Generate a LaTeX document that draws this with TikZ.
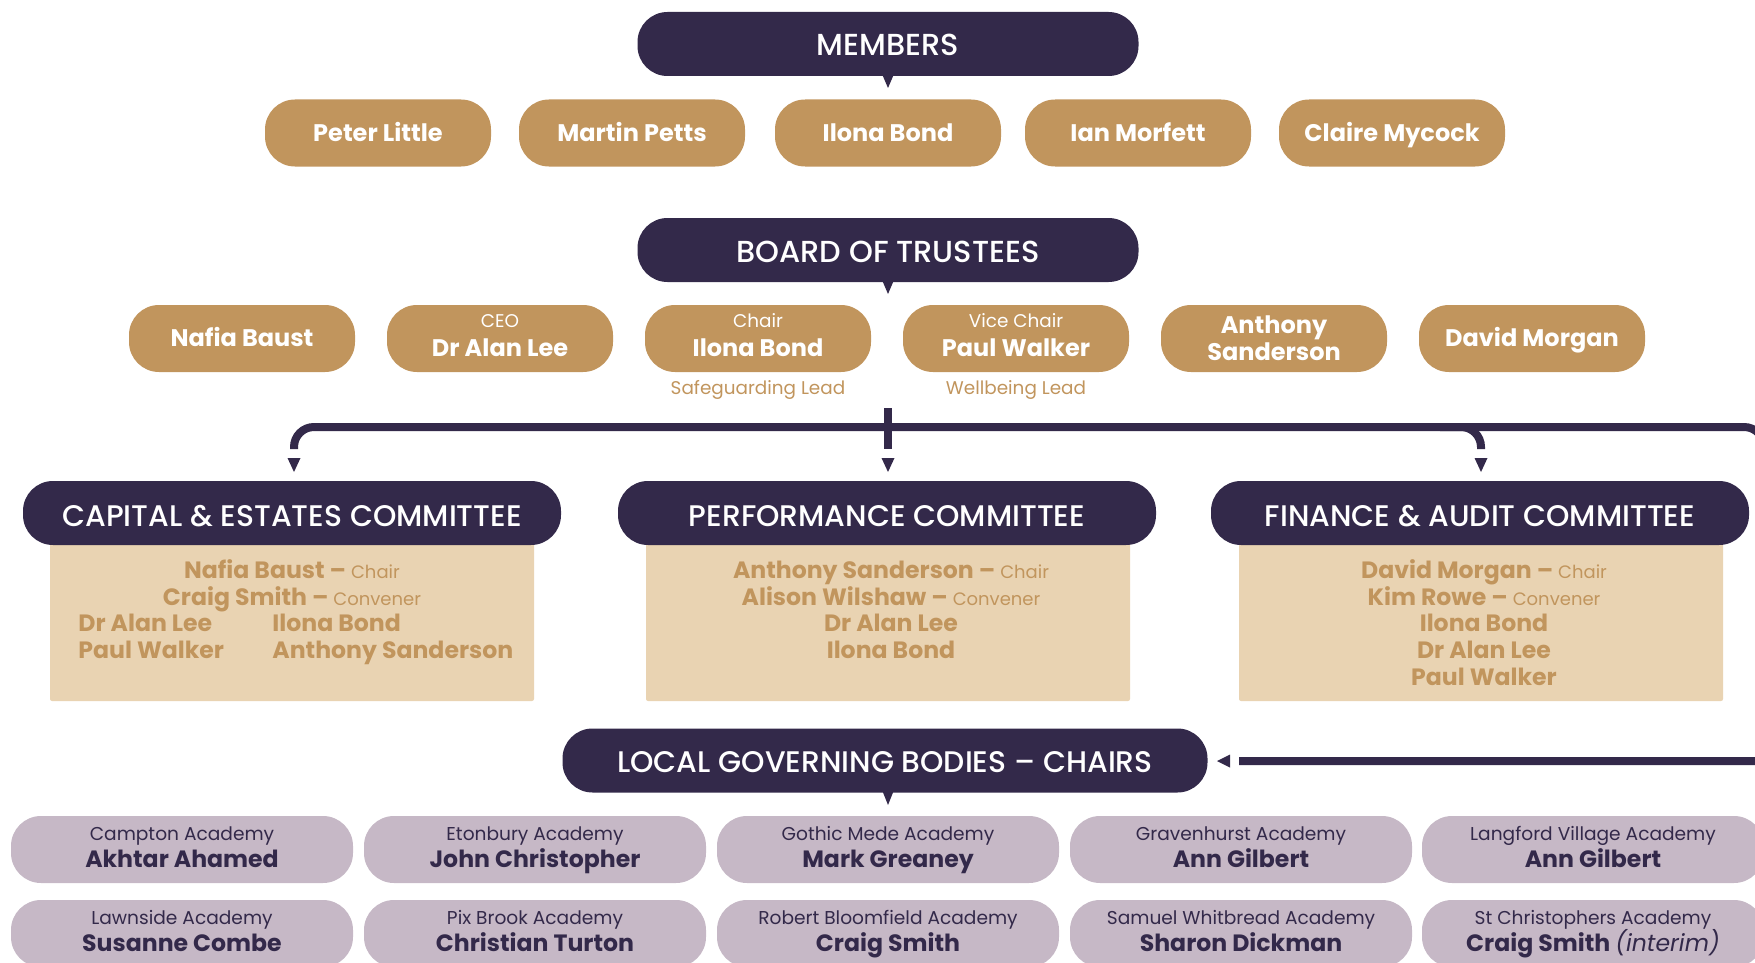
\documentclass[tikz,border=0pt]{standalone}
\usepackage{fontspec}
\setmainfont{Poppins}
\newfontfamily\medfont{Poppins Medium}
\definecolor{dark}{RGB}{51,41,74}
\definecolor{gold}{RGB}{193,149,93}
\definecolor{beige}{RGB}{233,211,178}
\definecolor{lav}{RGB}{198,184,198}
\newcommand\fHead{\medfont\fontsize{15.2}{17}\selectfont}
\newcommand\fCom{\medfont\fontsize{14.9}{17}\selectfont}
\newcommand\fName{\fontsize{12}{14}\selectfont\bfseries}
\newcommand\fSmall{\fontsize{9.2}{11}\selectfont}
\newcommand\fBox{\fontsize{11.8}{13}\selectfont\bfseries}
\newcommand\fBoxS{\fontsize{9}{10}\selectfont\mdseries}
\newcommand\fAcS{\fontsize{9.3}{11}\selectfont}
\newcommand\fAcB{\fontsize{11.8}{13}\selectfont\bfseries}
\begin{document}
\begin{tikzpicture}[x=0.5pt,y=-0.5pt,
  hdr/.style={fill=dark, rounded corners=15pt, inner sep=0, minimum height=32pt},
  goldpill/.style={fill=gold, rounded corners=15pt, inner sep=0, minimum width=113pt, minimum height=33.5pt},
  acad/.style={fill=lav, rounded corners=15pt, inner sep=0, minimum width=171pt, minimum height=33.5pt},
  cbox/.style={fill=beige, rounded corners=1pt, inner sep=0, minimum width=242pt, minimum height=80.5pt},
  tw/.style={anchor=base, inner sep=0, text=white},
  tg/.style={anchor=base, inner sep=0, text=gold},
  tgl/.style={anchor=base west, inner sep=0, text=gold},
  td/.style={anchor=base, inner sep=0, text=dark},
  conn/.style={draw=dark, line width=4pt},
  tip/.style={fill=dark}
]
\useasboundingbox (0,0) rectangle (1755,963);

% ---------- MEMBERS ----------
\node[hdr, minimum width=250.5pt] (members) at (888,44) {};
\node[tw] (memberst) at (888,56) {\fHead MEMBERS};
\fill[tip] (882,74) -- (894,74) -- (888,88) -- cycle;
\foreach \nm/\x/\t in {m1/378/Peter Little, m2/632/Martin Petts, m3/888/Ilona Bond, m4/1138/Ian Morfett, m5/1392/Claire Mycock}{
  \node[goldpill] (\nm) at (\x,133) {};
  \node[tw] (\nm t) at (\x,141) {\fName \t};
}

% ---------- BOARD ----------
\node[hdr, minimum width=250.5pt] (board) at (888,250) {};
\node[tw] (boardt) at (888,262) {\fHead BOARD OF TRUSTEES};
\fill[tip] (882,280) -- (894,280) -- (888,294) -- cycle;

\foreach \nm/\x in {t1/242, t2/500, t3/758, t4/1016, t5/1274, t6/1532}{
  \node[goldpill] (\nm) at (\x,338.5) {};
}
\node[tw] (t1a) at (242,346) {\fName Nafia Baust};
\node[tw] (t2a) at (500,327) {\fSmall CEO};
\node[tw] (t2b) at (500,356) {\fName Dr Alan Lee};
\node[tw] (t3a) at (758,327) {\fSmall Chair};
\node[tw] (t3b) at (758,356) {\fName Ilona Bond};
\node[tw] (t4a) at (1016,327) {\fSmall Vice Chair};
\node[tw] (t4b) at (1016,356) {\fName Paul Walker};
\node[tw] (t5a) at (1274,333) {\fName Anthony};
\node[tw] (t5b) at (1274,360) {\fName Sanderson};
\node[tw] (t6a) at (1532,346) {\fName David Morgan};
\node[tg] (t3c) at (758,394) {\fSmall Safeguarding Lead};
\node[tg] (t4c) at (1016,394) {\fSmall Wellbeing Lead};

% ---------- connectors ----------
\coordinate (hubtop) at (888,408);
\coordinate (hubbot) at (888,449);
\coordinate (c1end) at (294,449);
\coordinate (c3end) at (1481,449);
\coordinate (lgbend) at (1239,761);
\coordinate (edgeT) at (1764,427);
\coordinate (edgeM) at (1764,600);
\coordinate (edgeB) at (1764,761);
\draw[conn, rounded corners=10pt] (c1end) -- (294,427) -- (edgeT) -- (edgeM);
\draw[conn, rounded corners=3pt] (edgeM) -- (edgeB) -- (lgbend);
\draw[conn, rounded corners=10pt] (1440,427) -- (1481,427) -- (c3end);
\draw[conn] (hubtop) -- (hubbot);
\coordinate (a1) at (294,458);
\coordinate (a2) at (888,458);
\coordinate (a3) at (1481,458);
\foreach \a in {a1,a2,a3}{
  \fill[tip] (\a) ++(-6.5,0) -- ++(13,0) -- ++(-6.5,14) -- cycle;
}
\coordinate (a4) at (1217,761);
\fill[tip] (a4) -- ++(13,-6.5) -- ++(0,13) -- cycle;

% ---------- committees ----------
\node[cbox] (b1) at (292,620.5) {};
\node[cbox] (b2) at (888,620.5) {};
\node[cbox] (b3) at (1481,620.5) {};
\node[hdr, minimum width=269pt] (c1) at (292,513) {};
\node[hdr, minimum width=269pt] (c2) at (887,513) {};
\node[hdr, minimum width=269pt] (c3) at (1480,513) {};
\node[tw] (c1t) at (292,526) {\fCom CAPITAL \& ESTATES COMMITTEE};
\node[tw] (c2t) at (887,526) {\fCom PERFORMANCE COMMITTEE};
\node[tw] (c3t) at (1480,526) {\fCom FINANCE \& AUDIT COMMITTEE};

% capital
\node[tg] (b1a) at (292,578) {\fBox Nafia Baust – {\fBoxS Chair}};
\node[tg] (b1b) at (292,605) {\fBox Craig Smith – {\fBoxS Convener}};
\node[tgl] (b1c) at (78,631) {\fBox Dr Alan Lee};
\node[tgl] (b1d) at (272,631) {\fBox Ilona Bond};
\node[tgl] (b1e) at (78,658) {\fBox Paul Walker};
\node[tgl] (b1f) at (272,658) {\fBox Anthony Sanderson};
% performance
\node[tg] (b2a) at (891,578) {\fBox Anthony Sanderson – {\fBoxS Chair}};
\node[tg] (b2b) at (891,605) {\fBox Alison Wilshaw – {\fBoxS Convener}};
\node[tg] (b2c) at (891,631) {\fBox Dr Alan Lee};
\node[tg] (b2d) at (891,658) {\fBox Ilona Bond};
% finance
\node[tg] (b3a) at (1484,578) {\fBox David Morgan – {\fBoxS Chair}};
\node[tg] (b3b) at (1484,605) {\fBox Kim Rowe – {\fBoxS Convener}};
\node[tg] (b3c) at (1484,631) {\fBox Ilona Bond};
\node[tg] (b3d) at (1484,658) {\fBox Dr Alan Lee};
\node[tg] (b3e) at (1484,685) {\fBox Paul Walker};

% ---------- LGB ----------
\node[hdr, minimum width=322.5pt] (lgb) at (885,760.5) {};
\node[tw] (lgbt) at (885,772) {\fCom LOCAL GOVERNING BODIES – CHAIRS};
\fill[tip] (882,790) -- (894,790) -- (888,805) -- cycle;

\foreach \nm/\x/\y/\s/\b in {
  r1/182/849.5/Campton Academy/Akhtar Ahamed,
  r2/535/849.5/Etonbury Academy/John Christopher,
  r3/888/849.5/Gothic Mede Academy/Mark Greaney,
  r4/1241/849.5/Gravenhurst Academy/Ann Gilbert,
  r5/1593/849.5/Langford Village Academy/Ann Gilbert,
  s1/182/933.5/Lawnside Academy/Susanne Combe,
  s2/535/933.5/Pix Brook Academy/Christian Turton,
  s3/888/933.5/Robert Bloomfield Academy/Craig Smith,
  s4/1241/933.5/Samuel Whitbread Academy/Sharon Dickman,
  s5/1593/933.5/St Christophers Academy/{Craig Smith {\mdseries\itshape (interim)}}}{
  \node[acad] (\nm) at (\x,\y) {};
  \node[td] (\nm a) at (\x,\y-9) {\fAcS \s};
  \node[td] (\nm b) at (\x,\y+17.5) {\fAcB \b};
}
\end{tikzpicture}
\end{document}
